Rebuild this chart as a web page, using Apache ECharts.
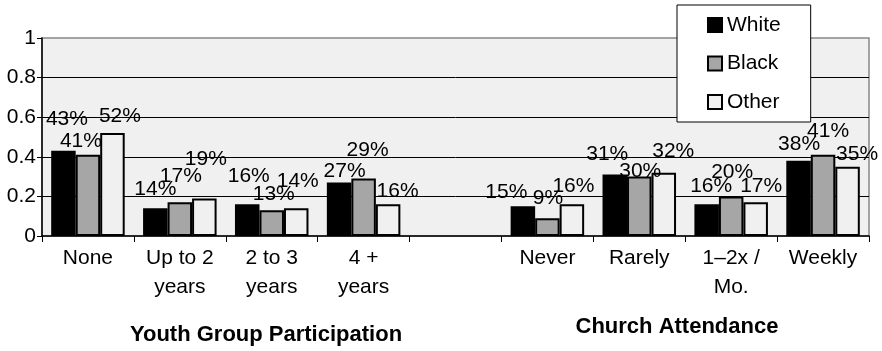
<!DOCTYPE html>
<html>
<head>
<meta charset="utf-8">
<script src="https://cdn.jsdelivr.net/npm/echarts@6/dist/echarts.min.js"></script>
<style>
  html, body { margin: 0; padding: 0; background: #fff; }
  #chart { width: 882px; height: 351px; }
</style>
</head>
<body>
<div id="chart"></div>
<script>
// Categories: youth group participation, a spacer, then church attendance
const categories = ['None', 'Up to 2\nyears', '2 to 3\nyears', '4 +\nyears', '',
                    'Never', 'Rarely', '1\u20132x /\nMo.', 'Weekly'];

// Share of each group (null = spacer column)
const whiteValues = [0.43, 0.14, 0.16, 0.27, null, 0.15, 0.31, 0.16, 0.38];
const blackValues = [0.41, 0.17, 0.13, 0.29, null, 0.09, 0.30, 0.20, 0.41];
const otherValues = [0.52, 0.19, 0.14, 0.16, null, 0.16, 0.32, 0.17, 0.35];

const yTicks = [0, 0.2, 0.4, 0.6, 0.8, 1];

// Hand-placed label nudges [dx, dy] so crowded percentages stay readable
const labelNudge = {
  White: [[3.5, -16.5], [0, -4], [1.5, -13], [5.5, 4], null, [-16.5, 1], [-7.5, -5], [4.5, -3], [0.5, -1]],
  Black: [[-7, 1.5], [1, -11], [2, -1], [4, -13], null, [0.5, -4], [1, 10], [1, -9], [5, -8]],
  Other: [[7.5, -1.5], [1.5, -24], [1.5, -12], [9.5, 2], null, [1.5, -3], [9.5, -6], [5.5, -1], [9.5, 3]]
};

const FONT = "'Liberation Sans', Arial, Helvetica, sans-serif";

function buildData(name, values) {
  return values.map(function (v, i) {
    if (v === null) return '-';
    const n = labelNudge[name][i] || [0, 0];
    return { value: v, label: { offset: n } };
  });
}

function makeSeries(name, values, fill) {
  return {
    name: name,
    type: 'bar',
    data: buildData(name, values),
    barGap: '0%',
    barCategoryGap: '20%',
    itemStyle: { color: fill, borderColor: '#000', borderWidth: 2 },
    label: {
      show: true,
      position: 'top',
      distance: 5,
      color: '#000',
      fontFamily: FONT,
      fontSize: 21,
      formatter: function (p) { return Math.round(p.value * 100) + '%'; }
    },
    emphasis: { disabled: true },
    animation: false
  };
}

const chart = echarts.init(document.getElementById('chart'));
chart.setOption({
  animation: false,
  textStyle: { fontFamily: FONT },
  grid: {
    left: 42, right: 13, top: 38, bottom: 115,
    show: true,
    backgroundColor: '#f0f0f0',
    borderColor: '#888',
    borderWidth: 1.5
  },
  legend: {
    orient: 'vertical',
    left: 677,
    top: 5,
    padding: [9, 30, 9, 30],
    itemGap: 16.5,
    itemWidth: 14,
    itemHeight: 14,
    icon: 'rect',
    backgroundColor: '#fff',
    borderColor: '#000',
    borderWidth: 1,
    itemStyle: { borderColor: '#000', borderWidth: 2 },
    textStyle: { fontFamily: FONT, fontSize: 21, color: '#000', lineHeight: 22 },
    data: ['White', 'Black', 'Other']
  },
  xAxis: {
    type: 'category',
    data: categories,
    boundaryGap: true,
    axisLine: { lineStyle: { color: '#000', width: 1.5 } },
    axisTick: { show: true, length: 6, interval: 0, lineStyle: { color: '#000' } },
    axisLabel: {
      interval: 0,
      margin: 8,
      color: '#000',
      fontFamily: FONT,
      fontSize: 21,
      lineHeight: 29
    }
  },
  yAxis: {
    type: 'value',
    min: yTicks[0],
    max: yTicks[yTicks.length - 1],
    interval: 0.2,
    axisLine: { show: true, lineStyle: { color: '#000', width: 1.5 } },
    axisTick: { show: true, length: 5, lineStyle: { color: '#000' } },
    axisLabel: {
      margin: 6,
      color: '#000',
      fontFamily: FONT,
      fontSize: 21,
      formatter: function (v) { return String(Math.round(v * 10) / 10); }
    },
    splitLine: { show: true, showMinLine: false, showMaxLine: false, lineStyle: { color: '#000', width: 1 } }
  },
  graphic: [
    {
      type: 'text',
      x: 266, y: 335,
      style: {
        text: 'Youth Group Participation',
        fontFamily: FONT, fontSize: 22, fontWeight: 'bold',
        fill: '#000', align: 'center', verticalAlign: 'middle'
      }
    },
    {
      type: 'text',
      x: 677, y: 327,
      style: {
        text: 'Church Attendance',
        fontFamily: FONT, fontSize: 22, fontWeight: 'bold',
        fill: '#000', align: 'center', verticalAlign: 'middle'
      }
    }
  ],
  series: [
    makeSeries('White', whiteValues, '#000000'),
    makeSeries('Black', blackValues, '#a6a6a6'),
    makeSeries('Other', otherValues, '#f0f0f0')
  ]
});
</script>
</body>
</html>
